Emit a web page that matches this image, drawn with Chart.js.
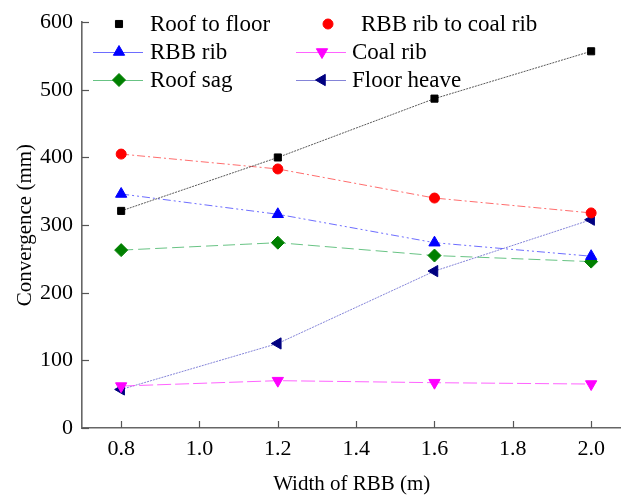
<!DOCTYPE html>
<html>
<head>
<meta charset="utf-8">
<script src="https://cdn.jsdelivr.net/npm/chart.js@4/dist/chart.umd.min.js"></script>
<style>
  html, body { margin: 0; padding: 0; background: #fff; overflow: hidden; }
</style>
</head>
<body>
<canvas id="convChart" width="629" height="499"></canvas>
<script>
// widths of RBB (m)
const widths = [0.8, 1.2, 1.6, 2.0];
const xTicks = [0.8, 1.0, 1.2, 1.4, 1.6, 1.8, 2.0];
const yTicks = [0, 100, 200, 300, 400, 500, 600];

// convergence (mm)
const roofToFloor = [321, 400, 487, 557];
const ribToRib = [405, 383, 340, 318];
const rbbRib = [346, 316, 274, 254];
const coalRib = [62, 70, 67, 65];
const roofSag = [263, 274, 255, 246];
const floorHeave = [57, 125, 232, 308];

const FONT = "'Liberation Serif', 'Times New Roman', serif";

function pts(arr) {
    return arr.map((v, i) => ({ x: widths[i], y: v }));
}

// legend drawn on canvas, 2 columns x 3 rows
const legendPlugin = {
    id: "customLegend",
    afterDraw(chart) {
        const ctx = chart.ctx;
        const cols = [
            { line0: 93, line1: 143, mark: 119, text: 150 },
            { line0: 296, line1: 346, mark: 322, text: 352 }
        ];
        const rows = [24, 52, 80];
        ctx.save();
        chart.data.datasets.forEach((ds, i) => {
            const c = cols[i % 2];
            const y = rows[Math.floor(i / 2)];
            let mx = c.mark, tx = c.text;
            if (i === 1) { mx = 328; tx = 361; }
            if (ds.legendLine !== false) {
                ctx.strokeStyle = ds.borderColor;
                ctx.lineWidth = 1;
                ctx.setLineDash([]);
                ctx.beginPath();
                ctx.moveTo(c.line0, y + 0.5);
                ctx.lineTo(c.line1, y + 0.5);
                ctx.stroke();
            }
            ctx.fillStyle = ds.pointBackgroundColor;
            ctx.strokeStyle = ds.pointBorderColor;
            ctx.lineWidth = 1;
            ctx.setLineDash([]);
            Chart.helpers.drawPoint(ctx, {
                pointStyle: ds.pointStyle,
                rotation: ds.pointRotation || 0,
                radius: ds.pointRadius,
                borderWidth: 1
            }, mx, y);
            ctx.fillStyle = "#000";
            ctx.font = "23px " + FONT;
            ctx.textBaseline = "middle";
            ctx.textAlign = "left";
            ctx.fillText(ds.label, tx, y + 1);
        });
        ctx.restore();
    }
};

// inward tick marks on both axes
const ticksPlugin = {
    id: "inTicks",
    afterDraw(chart) {
        const ctx = chart.ctx;
        const xs = chart.scales.x, ys = chart.scales.y;
        const a = chart.chartArea;
        ctx.save();
        ctx.strokeStyle = "#555";
        ctx.lineWidth = 1.2;
        yTicks.forEach(v => {
            const py = Math.round(ys.getPixelForValue(v)) + 0.5;
            ctx.beginPath();
            ctx.moveTo(a.left, py);
            ctx.lineTo(a.left + 7, py);
            ctx.stroke();
        });
        xTicks.forEach(v => {
            const px = Math.round(xs.getPixelForValue(v)) + 0.5;
            ctx.beginPath();
            ctx.moveTo(px, a.bottom);
            ctx.lineTo(px, a.bottom - 7);
            ctx.stroke();
        });
        ctx.restore();
    }
};

function series(label, data, color, lineColor, dash, style, radius, rot, legendLine) {
    return {
        label: label,
        data: pts(data),
        borderColor: lineColor,
        backgroundColor: color,
        pointBackgroundColor: color,
        pointBorderColor: color,
        pointBorderWidth: 1,
        borderWidth: 1,
        borderDash: dash,
        pointStyle: style,
        pointRadius: radius,
        pointRotation: rot,
        pointHoverRadius: radius,
        tension: 0,
        legendLine: legendLine
    };
}

const ctx = document.getElementById("convChart");
const chart = new Chart(ctx, {
    type: "line",
    data: {
        datasets: [
            series("Roof to floor", roofToFloor, "#000000", "rgba(60,60,60,0.85)", [2, 1], "rect", 5, 0, false),
            series("RBB rib to coal rib", ribToRib, "#ff0000", "rgba(255,60,60,0.75)", [8, 3, 2, 3], "circle", 5, 0, false),
            series("RBB rib", rbbRib, "#0000ff", "rgba(60,60,255,0.75)", [8, 3, 2, 3, 2, 3], "triangle", 6.5, 0, true),
            series("Coal rib", coalRib, "#ff00ff", "rgba(255,60,255,0.8)", [14, 4], "triangle", 6.5, 180, true),
            series("Roof sag", roofSag, "#008000", "rgba(40,170,80,0.7)", [12, 5], "rectRot", 6.5, 0, true),
            series("Floor heave", floorHeave, "#000080", "rgba(80,80,200,0.7)", [2, 1], "triangle", 6.5, 270, true)
        ]
    },
    options: {
        responsive: false,
        maintainAspectRatio: false,
        animation: false,
        devicePixelRatio: 1,
        layout: { padding: { top: 20, right: 0, left: 0, bottom: 0 } },
        plugins: {
            legend: { display: false },
            tooltip: { enabled: false }
        },
        scales: {
            x: {
                type: "linear",
                min: 0.7,
                max: 2.0775,
                afterBuildTicks: s => { s.ticks = xTicks.map(v => ({ value: v })); },
                afterFit: s => { s.height = 71; },
                grid: { display: true, drawOnChartArea: false, drawTicks: false },
                border: { display: true, color: "#666", width: 1.6 },
                ticks: {
                    padding: 8,
                    color: "#000",
                    font: { family: FONT, size: 22 },
                    callback: v => v.toFixed(1),
                    maxRotation: 0
                },
                title: {
                    display: true,
                    text: "Width of RBB (m)",
                    color: "#000",
                    font: { family: FONT, size: 21 },
                    padding: { top: 0, bottom: 2 }
                }
            },
            y: {
                min: 0,
                max: 600,
                afterBuildTicks: s => { s.ticks = yTicks.map(v => ({ value: v })); },
                afterFit: s => { s.width = 82; },
                grid: { display: true, drawOnChartArea: false, drawTicks: false },
                border: { display: true, color: "#666", width: 1.6 },
                ticks: {
                    padding: 9,
                    color: "#000",
                    font: { family: FONT, size: 22 }
                },
                title: {
                    display: true,
                    text: "Convergence (mm)",
                    color: "#000",
                    font: { family: FONT, size: 21 },
                    padding: 13
                }
            }
        }
    },
    plugins: [ticksPlugin, legendPlugin]
});
</script>
</body>
</html>
